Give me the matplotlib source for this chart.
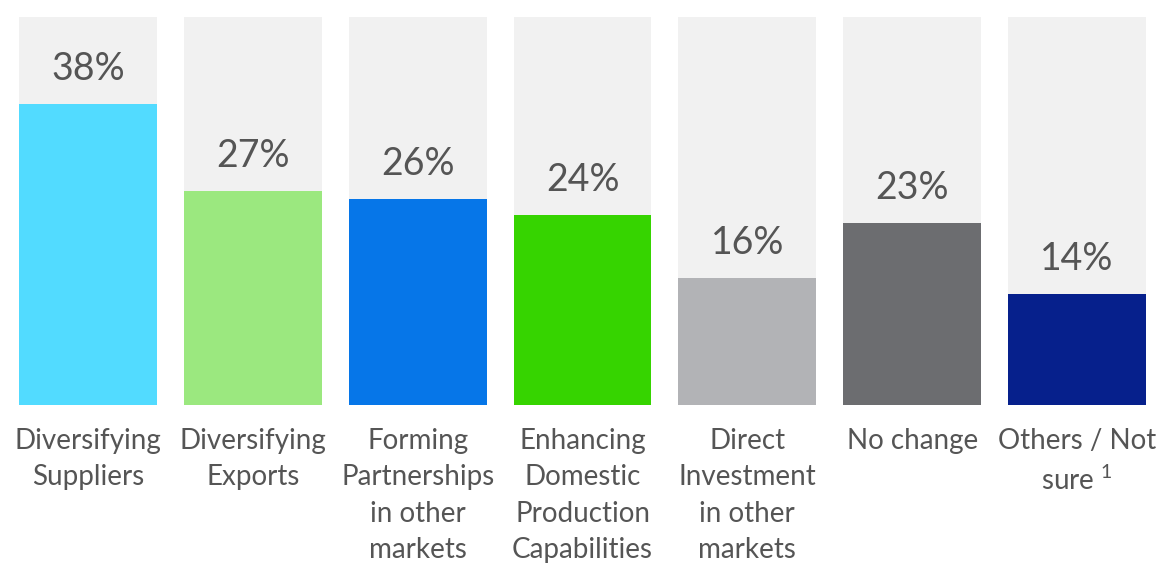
import matplotlib
matplotlib.use("Agg")
import matplotlib.pyplot as plt
import matplotlib.transforms as mtransforms

categories = [
    "Diversifying\nSuppliers",
    "Diversifying\nExports",
    "Forming\nPartnerships\nin other\nmarkets",
    "Enhancing\nDomestic\nProduction\nCapabilities",
    "Direct\nInvestment\nin other\nmarkets",
    "No change",
    "Others / Not\nsure $^{1}$",
]
values = [38, 27, 26, 24, 16, 23, 14]
colors = ["#52DBFF", "#9BE87F", "#0676E8", "#36D400", "#B2B3B6", "#6C6D70", "#06208C"]

plt.rcParams["font.family"] = ["Lato", "DejaVu Sans"]
plt.rcParams["mathtext.fontset"] = "custom"
plt.rcParams["mathtext.rm"] = "Lato"
plt.rcParams["mathtext.default"] = "regular"
text_color = "#555555"
bg_height = 49
bar_width = 0.836

fig = plt.figure(figsize=(11.6, 5.63), dpi=100)
ax = fig.add_axes([19 / 1160, 158 / 563, (1146 - 19) / 1160, 388 / 563])

x = list(range(len(values)))
ax.bar(x, [bg_height] * len(values), width=bar_width, color="#F1F1F1")
ax.bar(x, values, width=bar_width, color=colors)

for xi, v in zip(x, values):
    ax.text(xi, v + 4.4, f"{v}%", ha="center", va="center",
            fontsize=27, color=text_color)

trans = mtransforms.blended_transform_factory(ax.transData, ax.transAxes)
for xi, lab in zip(x, categories):
    ax.text(xi, -0.058, lab, ha="center", va="top", transform=trans,
            fontsize=20, color=text_color, linespacing=1.5)

ax.set_xlim(-bar_width / 2, len(values) - 1 + bar_width / 2)
ax.set_ylim(0, bg_height)
ax.axis("off")

fig.savefig("out.png", dpi=100)
